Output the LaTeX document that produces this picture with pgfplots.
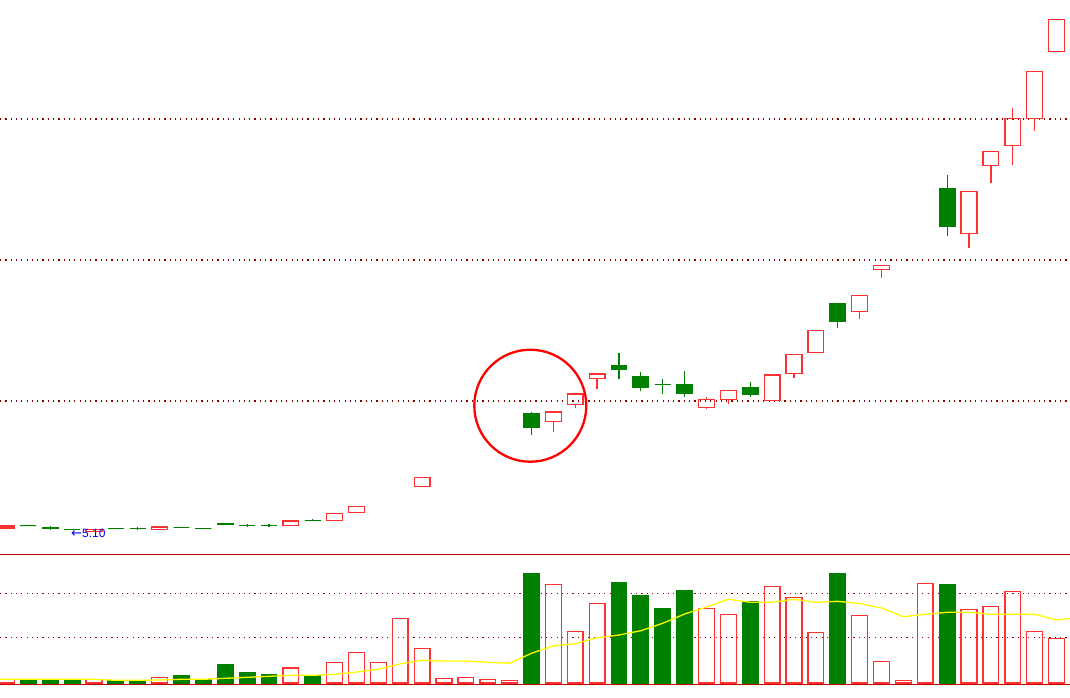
\documentclass[border=0pt]{standalone}
\usepackage{pgfplots}
\pgfplotsset{compat=1.18}
\usepgfplotslibrary{statistics}
\usepackage{fontspec}
\setmainfont{Liberation Sans}
\newfontfamily\arrowfont{DejaVu Sans}
\definecolor{cgreen}{RGB}{0,128,0}
\definecolor{cred}{RGB}{255,50,50}
\definecolor{gridred}{RGB}{140,0,0}
\definecolor{sepred}{RGB}{192,0,0}
\definecolor{mayellow}{RGB}{255,255,0}
% candle: index, open, high, low, close
\newcommand{\candleup}[5]{\addplot[draw=cred, fill=none, line width=1.3pt,
  boxplot prepared={draw direction=y, draw position=#1, lower whisker=#4, lower quartile=#2,
  median=#2, upper quartile=#5, upper whisker=#3}] coordinates {};}
\newcommand{\candledn}[5]{\addplot[draw=cgreen, fill=cgreen, line width=1.1pt,
  boxplot prepared={draw direction=y, draw position=#1, lower whisker=#4, lower quartile=#5,
  median=#5, upper quartile=#2, upper whisker=#3}] coordinates {};}

\pgfplotstableread{
i v
1 2
2 3.7
3 3.7
5 2.7
6 2.7
8 7
9 3.7
10 18
11 10
12 8
14 7.3
24 109
28 100
29 87
30 74
31 92
34 81.3
38 109
43 98
}\volgreen
\pgfplotstableread{
i v
0 3.7
4 3.7
7 5.7
13 15
15 20.7
16 30.7
17 20.7
18 64.7
19 34.7
20 4.7
21 5.7
22 3.7
23 2.7
25 98.7
26 51.7
27 79.7
32 74.7
33 68.7
35 96.7
36 85.7
37 50.7
39 67.7
40 21.7
41 2.7
42 99.7
44 73.7
45 76.7
46 91.7
47 51.7
48 44.7
}\volred
\pgfplotstableread{
i v
-1 3.7
0 3.7
1 3.7
2 3.7
3 3.7
4 3.7
5 2.7
6 2.7
7 3.0
8 3.7
9 3.7
10 4.7
11 5.7
12 6.7
13 7.7
14 7.7
15 8.7
16 11.0
17 13.7
18 19.2
19 22.7
20 22.0
21 22.0
22 20.7
23 19.7
24 29.7
25 37.3
26 39.3
27 45.3
28 48.0
29 52.3
30 59.7
31 69.0
32 76.0
33 83.7
34 80.7
35 80.7
36 83.7
37 80.7
38 81.7
39 79.5
40 75.0
41 66.3
42 68.7
43 70.7
44 70.7
45 68.7
46 68.7
47 68.7
48 63.0
49 65.5
}\volma

\begin{document}
\begin{tikzpicture}
\useasboundingbox (0pt,0pt) rectangle (1070pt,697pt);
\fill[white] (0pt,0pt) rectangle (1070pt,697pt);
% price panel
\begin{axis}[
  at={(0pt,144pt)}, anchor=south west,
  width=1070pt, height=553pt, scale only axis,
  xmin=-0.297, xmax=48.617, ymin=4.61, ymax=24.22,
  axis line style={draw=none}, tick style={draw=none},
  xtick=\empty, ytick={10,15,20}, yticklabels={}, major tick length=0pt,
  ymajorgrids,
  grid style={gridred, line width=1.2pt, dash pattern=on 1.2pt off 4.1pt},
  boxplot/draw direction=y,
  boxplot/box extend=0.72, boxplot/whisker extend=0,
]
\candleup{0}{5.50}{5.57}{5.50}{5.57}
\candledn{1}{5.57}{5.57}{5.57}{5.57}
\candledn{2}{5.53}{5.58}{5.43}{5.47}
\candledn{3}{5.45}{5.45}{5.45}{5.45}
\candleup{4}{5.38}{5.44}{5.38}{5.44}
\candledn{5}{5.49}{5.49}{5.49}{5.49}
\candledn{6}{5.48}{5.54}{5.43}{5.48}
\candleup{7}{5.44}{5.53}{5.44}{5.53}
\candledn{8}{5.52}{5.52}{5.52}{5.52}
\candledn{9}{5.49}{5.49}{5.49}{5.49}
\candledn{10}{5.67}{5.67}{5.61}{5.61}
\candledn{11}{5.59}{5.65}{5.53}{5.59}
\candledn{12}{5.59}{5.65}{5.53}{5.59}
\candleup{13}{5.58}{5.74}{5.58}{5.74}
\candledn{14}{5.77}{5.82}{5.77}{5.77}
\candleup{15}{5.77}{6.02}{5.77}{6.02}
\candleup{16}{6.05}{6.27}{6.05}{6.27}
\candleup{19}{6.98}{7.29}{6.98}{7.29}
\candledn{24}{9.57}{9.61}{8.80}{9.05}
\candleup{25}{9.28}{9.61}{8.91}{9.61}
\candleup{26}{9.88}{10.25}{9.76}{10.25}
\candleup{27}{10.80}{10.96}{10.44}{10.96}
\candledn{28}{11.24}{11.70}{10.78}{11.11}
\candledn{29}{10.85}{11.03}{10.37}{10.47}
\candledn{30}{10.60}{10.78}{10.26}{10.60}
\candledn{31}{10.60}{11.06}{10.15}{10.26}
\candleup{32}{9.78}{10.14}{9.73}{10.06}
\candleup{33}{10.05}{10.38}{9.90}{10.38}
\candledn{34}{10.46}{10.67}{10.15}{10.22}
\candleup{35}{10.01}{10.92}{10.01}{10.92}
\candleup{36}{10.98}{11.66}{10.83}{11.66}
\candleup{37}{11.73}{12.51}{11.73}{12.51}
\candledn{38}{13.44}{13.44}{12.60}{12.81}
\candleup{39}{13.18}{13.75}{12.92}{13.75}
\candleup{40}{14.67}{14.81}{14.37}{14.81}
\candledn{43}{17.54}{18.01}{15.86}{16.18}
\candleup{44}{15.95}{17.44}{15.44}{17.44}
\candleup{45}{18.36}{18.85}{17.74}{18.85}
\candleup{46}{19.07}{20.39}{18.38}{20.02}
\candleup{47}{20.02}{21.69}{19.59}{21.69}
\candleup{48}{22.40}{23.54}{22.40}{23.54}
\draw[red, line width=2.3pt] (axis cs:23.945,9.833) circle[radius=56pt];
\node[anchor=base west, inner sep=0pt, text=blue,
  font=\fontsize{12}{13}\selectfont] at (axis cs:2.949,5.177)
  {{\arrowfont\fontsize{13}{13}\selectfont ←}5.10};
\end{axis}
% volume panel
\begin{axis}[
  at={(0pt,11.5pt)}, anchor=south west,
  width=1070pt, height=132.5pt, scale only axis,
  xmin=-0.297, xmax=48.617, ymin=-2.5, ymax=130,
  axis line style={draw=none}, tick style={draw=none},
  xtick=\empty, ytick={45.7,89.7}, yticklabels={}, major tick length=0pt,
  ymajorgrids,
  grid style={gridred, line width=1.2pt, dash pattern=on 1.2pt off 4.1pt},
]
\addplot[ybar, bar width=0.72, bar shift=0pt, fill=cgreen, draw=cgreen,
  line width=1.1pt] table[x=i, y=v] {\volgreen};
\addplot[ybar, bar width=0.72, bar shift=0pt, fill=none, draw=cred,
  line width=1.3pt] table[x=i, y=v] {\volred};
\addplot[sharp plot, mayellow, line width=1.3pt, mark=none] table[x=i, y=v] {\volma};
\draw[sepred, line width=1.6pt] (axis cs:-0.297,128.7) -- (axis cs:48.617,128.7);
\draw[sepred, line width=1.6pt] (axis cs:-0.297,-1.3) -- (axis cs:48.617,-1.3);
\end{axis}
\end{tikzpicture}
\end{document}
